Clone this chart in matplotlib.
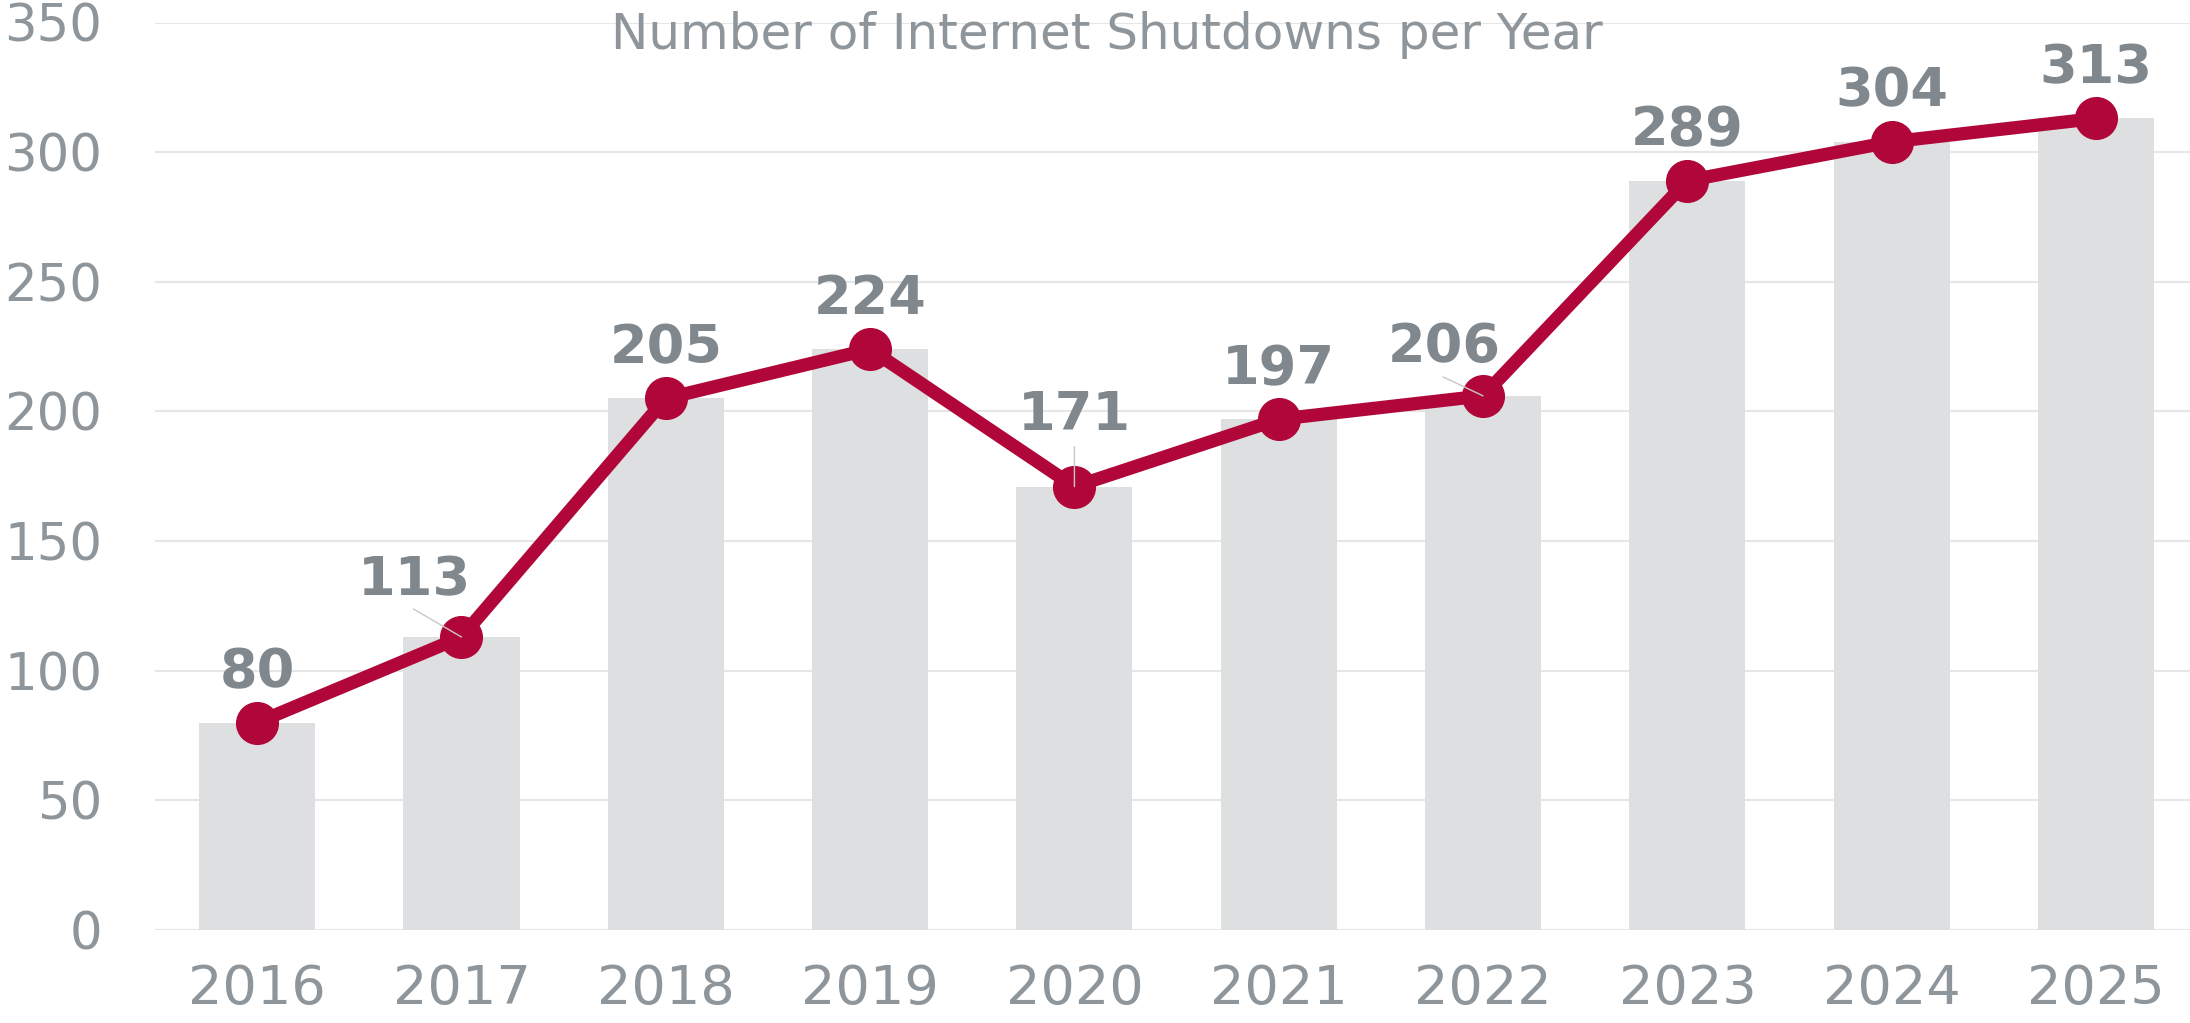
import numpy as np
import matplotlib.pyplot as plt

# yearly counts of internet shutdowns
years = ['2016', '2017', '2018', '2019', '2020', '2021', '2022', '2023', '2024', '2025']
shutdowns = [80, 113, 205, 224, 171, 197, 206, 289, 304, 313]
y_ticks = [0, 50, 100, 150, 200, 250, 300, 350]

# label offsets in pixels (text, leader start) for the crowded points
text_off = {1: (-47, 42), 4: (0, 57), 6: (-39, 34)}
leader_off = {1: (-48, 28), 4: (0, 40), 6: (-40, 19)}

red = '#B00639'
bar_grey = '#DEDFE1'
tick_grey = '#8F969B'
label_grey = '#80878D'

fig = plt.figure(figsize=(21.9, 10.23), dpi=100)
ax = fig.add_axes([155 / 2190, 93 / 1023, 1 - 155 / 2190, 907.5 / 1023])

x = np.arange(len(years))
ax.bar(x, shutdowns, width=0.568, color=bar_grey, zorder=1)
ax.plot(x, shutdowns, color=red, lw=9.5, marker='o', markersize=30,
        solid_capstyle='round', zorder=3)

for i, v in enumerate(shutdowns):
    dx, dy = text_off.get(i, (0, 35))
    ax.annotate(str(v), xy=(i, v), xytext=(dx, dy), textcoords='offset pixels',
                ha='center', va='baseline', fontsize=39, fontweight='bold',
                color=label_grey, zorder=5)
    if i in leader_off:
        ax.annotate('', xy=(i, v), xytext=leader_off[i], textcoords='offset pixels',
                    arrowprops=dict(arrowstyle='-', color='#C8C8C8', lw=1.0,
                                    shrinkA=0, shrinkB=0), zorder=4)

ax.set_xlim(-0.5, 9.46)
ax.set_ylim(0, 350)
ax.set_xticks(x)
ax.set_xticklabels(years)
ax.set_yticks(y_ticks)
ax.tick_params(axis='both', length=0, labelcolor=tick_grey)
ax.tick_params(axis='y', labelsize=37, pad=38)
ax.tick_params(axis='x', labelsize=39, pad=24)
ax.grid(axis='y', color='#E6E6E6', lw=1.5)
ax.set_axisbelow(True)
for s in ax.spines.values():
    s.set_visible(False)

fig.text(1107 / 2190, 1 - 49 / 1023, 'Number of Internet Shutdowns per Year',
         ha='center', va='baseline', fontsize=36, color=tick_grey)

fig.savefig('out.png', dpi=100)
